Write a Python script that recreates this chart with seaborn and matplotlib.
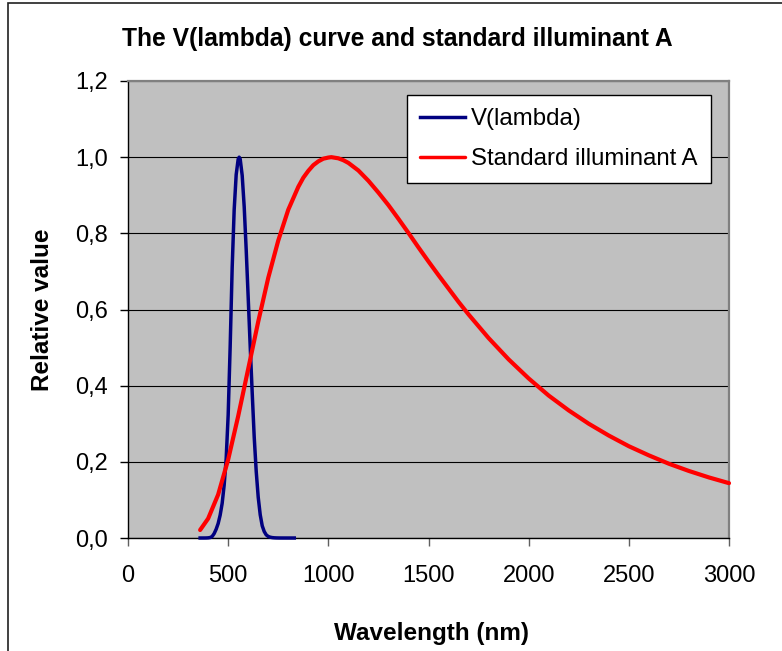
import matplotlib
matplotlib.use("Agg")
import matplotlib.pyplot as plt
from matplotlib.patches import Rectangle
import seaborn as sns

# ---- data ----
v_wavelength = [360, 370, 380, 390, 400, 410, 420, 430, 440, 450, 460, 470, 480,
                490, 500, 510, 520, 530, 540, 550, 555, 560, 570, 580, 590, 600,
                610, 620, 630, 640, 650, 660, 670, 680, 690, 700, 710, 720, 730,
                740, 750, 760, 770, 780, 790, 800, 810, 820, 830]
v_lambda = [0.0000039, 0.000012, 0.000039, 0.00012, 0.000396, 0.00121, 0.004,
            0.0116, 0.023, 0.038, 0.06, 0.091, 0.139, 0.208, 0.323, 0.503, 0.71,
            0.862, 0.954, 0.995, 1.0, 0.995, 0.952, 0.87, 0.757, 0.631, 0.503,
            0.381, 0.265, 0.175, 0.107, 0.061, 0.032, 0.017, 0.0082, 0.0041,
            0.0021, 0.00105, 0.00052, 0.00025, 0.00012, 0.00006, 0.00003,
            0.000015, 0.0000075, 0.0000037, 0.0000019, 0.0000009, 0.0000005]

a_wavelength = [360, 400, 450, 500, 550, 600, 650, 700, 750, 800, 850, 875, 900,
                925, 950, 975, 1000, 1015, 1050, 1075, 1100, 1150, 1200, 1250,
                1300, 1350, 1400, 1450, 1500, 1550, 1600, 1650, 1700, 1800, 1900,
                2000, 2100, 2200, 2300, 2400, 2500, 2600, 2700, 2800, 2900, 3000]
illum_a = [0.021, 0.051, 0.114, 0.206, 0.320, 0.444, 0.568, 0.683, 0.781, 0.862,
           0.922, 0.946, 0.964, 0.979, 0.989, 0.996, 0.999, 1.0, 0.997, 0.992,
           0.985, 0.965, 0.938, 0.907, 0.874, 0.838, 0.801, 0.763, 0.726, 0.690,
           0.655, 0.620, 0.587, 0.525, 0.469, 0.419, 0.374, 0.335, 0.300, 0.269,
           0.241, 0.217, 0.195, 0.176, 0.159, 0.144]

y_ticks = [0.0, 0.2, 0.4, 0.6, 0.8, 1.0, 1.2]
y_tick_labels = ["0,0", "0,2", "0,4", "0,6", "0,8", "1,0", "1,2"]
x_ticks = [0, 500, 1000, 1500, 2000, 2500, 3000]
x_tick_labels = ["0", "500", "1000", "1500", "2000", "2500", "3000"]

title = "The V(lambda) curve and standard illuminant A"
x_label = "Wavelength (nm)"
y_label = "Relative value"
series_names = ["V(lambda)", "Standard illuminant A"]

# ---- figure ----
plt.rcParams["font.family"] = ["Liberation Sans", "DejaVu Sans"]
W, H = 782, 651
fig = plt.figure(figsize=(W / 100, H / 100), dpi=100)
fig.patch.set_facecolor("white")

L, R, T, B = 128, 729, 81, 538
ax = fig.add_axes([L / W, 1 - B / H, (R - L) / W, (B - T) / H])
ax.set_facecolor("#C0C0C0")

sns.lineplot(x=v_wavelength, y=v_lambda, ax=ax, color="#000080", linewidth=2.5,
             label=series_names[0], clip_on=False, zorder=3)
sns.lineplot(x=a_wavelength, y=illum_a, ax=ax, color="#FF0000", linewidth=3.0,
             label=series_names[1], clip_on=False, zorder=4,
             solid_capstyle="round", solid_joinstyle="round")

ax.set_xlim(0, 3000)
ax.set_ylim(0, 1.2)
ax.set_xticks(x_ticks)
ax.set_xticklabels(x_tick_labels)
ax.set_yticks(y_ticks)
ax.set_yticklabels(y_tick_labels)
ax.set_xlabel("")
ax.set_ylabel("")

ax.grid(axis="y", color="black", linewidth=0.8, zorder=1)
ax.grid(axis="x", visible=False)
ax.set_axisbelow(True)

ax.tick_params(axis="both", direction="out", labelsize=17, colors="black")
ax.tick_params(axis="x", length=5.5, pad=14, color="#606060", width=1)
ax.tick_params(axis="y", length=5.5, pad=9, color="black", width=1)

for side in ["left", "bottom"]:
    ax.spines[side].set_color("black")
    ax.spines[side].set_linewidth(1.0)
for side in ["top", "right"]:
    ax.spines[side].set_color("#808080")
    ax.spines[side].set_linewidth(1.6)

leg = ax.legend(loc="upper right", bbox_to_anchor=(711 / W, 1 - 95 / H),
                bbox_transform=fig.transFigure, borderaxespad=0,
                fontsize=17.3, frameon=True, fancybox=False, framealpha=1,
                edgecolor="black", facecolor="white", handlelength=1.85,
                handletextpad=0.28, labelspacing=0.75, borderpad=0.55)
leg.get_frame().set_linewidth(1.0)
for line in leg.get_lines():
    line.set_linewidth(2.5)

fig.text(397 / W, 1 - 46 / H, title, ha="center", va="baseline",
         fontsize=17.7, fontweight="bold")
fig.text(432 / W, 1 - 640 / H, x_label, ha="center", va="baseline",
         fontsize=17.5, fontweight="bold")
fig.text(43 / W, 1 - 310 / H, y_label, ha="center", va="center",
         rotation=90, fontsize=17.5, fontweight="bold")

fig.add_artist(Rectangle((8 / W, -0.05), 1.0, 1 - 3 / H + 0.05, fill=False,
                         edgecolor="#202020", linewidth=1.2,
                         transform=fig.transFigure))

fig.savefig("out.png", dpi=100)
